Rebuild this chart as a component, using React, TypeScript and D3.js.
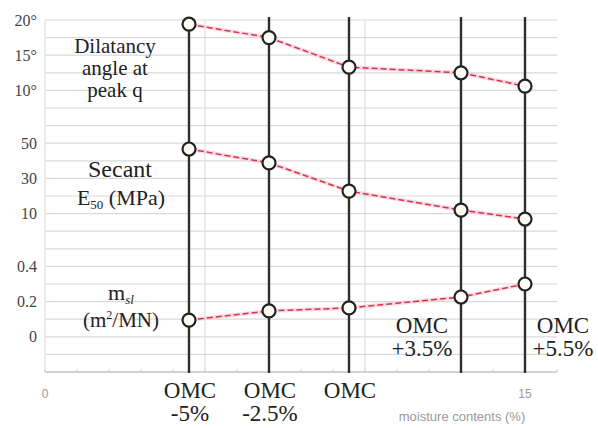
import React from "react";
import * as d3 from "d3";

// Moisture content of each specimen (%), and its label relative to OMC
const moisture = [4.5, 7, 9.5, 13, 15];
const omcLabels = [["OMC", "-5%"], ["OMC", "-2.5%"], ["OMC"], ["OMC", "+3.5%"], ["OMC", "+5.5%"]];

// Measured parameters at each moisture content
const dilatancy = [19.4, 17.5, 13.3, 12.5, 10.6]; // degrees
const secantE50 = [46.7, 38.8, 22.8, 12.0, 6.9]; // MPa
const mSl = [0.095, 0.147, 0.164, 0.226, 0.3]; // m2/MN

// Tick values shown for each stacked panel
const dilatancyTicks = [10, 15, 20];
const e50Ticks = [10, 30, 50];
const mTicks = [0, 0.2, 0.4];
const xTicks = [0, 15];

const W = 598;
const H = 428;

const serif = "'Liberation Serif', 'Times New Roman', serif";
const sans = "'Liberation Sans', Arial, sans-serif";
const serifStyle = { fontFamily: serif };

export default function App() {
  const x = d3.scaleLinear().domain([0, 16]).range([45, 557]);
  const y = d3.scaleLinear().domain([0, 20]).range([372, 20]);

  // each parameter occupies its own band of the shared vertical axis
  const dilBand = d3.scaleLinear().domain([10, 20]).range([16, 20]);
  const e50Band = d3.scaleLinear().domain([10, 50]).range([9, 13]);
  const mBand = d3.scaleLinear().domain([0, 0.4]).range([2, 6]);

  const series = [
    { values: dilatancy, band: dilBand },
    { values: secantE50, band: e50Band },
    { values: mSl, band: mBand },
  ];

  const line = d3
    .line<[number, number]>()
    .x((d) => d[0])
    .y((d) => d[1]);

  const tickLabels = [
    ...dilatancyTicks.map((v) => ({ pos: dilBand(v), text: `${v}°` })),
    ...e50Ticks.map((v) => ({ pos: e50Band(v), text: `${v}` })),
    ...mTicks.map((v) => ({ pos: mBand(v), text: `${v}` })),
  ];

  const gridRows = d3.range(1, 21);
  const gridCols = [0, 5, 10, 15];
  const minorX = d3.range(0, 16.01, 1);

  return (
    <svg
      width={W}
      height={H}
      style={{ position: "absolute", left: 0, top: 0, background: "#fff" }}
    >
      {/* horizontal grid */}
      {gridRows.map((r) => (
        <line
          key={`h${r}`}
          x1={x(0)}
          x2={x(16)}
          y1={y(r)}
          y2={y(r)}
          stroke="#d9d9d9"
          strokeWidth={1.2}
        />
      ))}
      {/* vertical grid */}
      {gridCols.map((c) => (
        <line
          key={`v${c}`}
          x1={x(c)}
          x2={x(c)}
          y1={y(20)}
          y2={y(0)}
          stroke="#dedede"
          strokeWidth={1.2}
        />
      ))}
      {/* bottom axis */}
      <line x1={x(0)} x2={x(16)} y1={y(0)} y2={y(0)} stroke="#c4c4c4" strokeWidth={1.5} />
      {minorX.map((v) => (
        <line
          key={`t${v}`}
          x1={x(v)}
          x2={x(v)}
          y1={y(0)}
          y2={y(0) - 3}
          stroke="#cfcfcf"
          strokeWidth={1}
        />
      ))}

      {/* specimen lines */}
      {moisture.map((m, i) => (
        <line
          key={`s${i}`}
          x1={x(m)}
          x2={x(m)}
          y1={y(20) - 3}
          y2={y(0) + 1}
          stroke="#2e2e2e"
          strokeWidth={2.4}
        />
      ))}

      {/* trend lines */}
      {series.map((s, si) => {
        const pts = s.values.map((v, i) => [x(moisture[i]), y(s.band(v))] as [number, number]);
        return (
          <g key={`l${si}`}>
            <path d={line(pts) || ""} fill="none" stroke="#f8c4cf" strokeWidth={4} opacity={0.6} />
            <path
              d={line(pts) || ""}
              fill="none"
              stroke="#d8324c"
              strokeWidth={1.5}
              strokeDasharray="6,3"
            />
          </g>
        );
      })}

      {/* markers */}
      {series.map((s, si) =>
        s.values.map((v, i) => (
          <circle
            key={`c${si}-${i}`}
            cx={x(moisture[i])}
            cy={y(s.band(v))}
            r={6.5}
            fill="#fffdf6"
            stroke="#222"
            strokeWidth={2.2}
          />
        ))
      )}

      {/* left tick labels */}
      {tickLabels.map((t, i) => (
        <text
          key={`yl${i}`}
          x={37}
          y={y(t.pos)}
          dy="0.35em"
          textAnchor="end"
          style={serifStyle}
          fontSize={16}
          fill="#444"
        >
          {t.text}
        </text>
      ))}

      {/* panel titles */}
      <g fill="#222" textAnchor="middle">
        <text x={115} y={53} fontSize={21} style={serifStyle}>Dilatancy</text>
        <text x={115} y={75} fontSize={21} style={serifStyle}>angle at</text>
        <text x={115} y={97} fontSize={21} style={serifStyle}>peak q</text>

        <text x={120} y={177} fontSize={24} style={serifStyle}>Secant</text>
        <text x={121} y={205} fontSize={22} style={serifStyle}>
          E<tspan fontSize={13} dy={4}>50</tspan>
          <tspan dy={-4}>{"  (MPa)"}</tspan>
        </text>

        <text x={121} y={300} fontSize={22} style={serifStyle}>
          m<tspan fontSize={13} dy={4} fontStyle="italic">sl</tspan>
        </text>
        <text x={121} y={327} fontSize={21} style={serifStyle}>
          (m<tspan fontSize={12} dy={-8}>2</tspan>
          <tspan dy={8}>/MN)</tspan>
        </text>
      </g>

      {/* OMC labels */}
      <g fill="#222" textAnchor="middle" fontSize={23}>
        {omcLabels.map((lab, i) => {
          const above = i >= 3;
          const cx = i === 3 ? x(moisture[i]) - 39 : i === 4 ? x(moisture[i]) + 38 : x(moisture[i]) + 1;
          const y0 = above ? 333 : 398;
          return (
            <text key={`o${i}`} x={cx} y={y0} style={serifStyle}>
              {lab.map((s, k) => (
                <tspan key={k} x={cx} dy={k === 0 ? 0 : 23}>
                  {s}
                </tspan>
              ))}
            </text>
          );
        })}
      </g>

      {/* x axis labels */}
      {xTicks.map((v) => (
        <text
          key={`xl${v}`}
          x={x(v)}
          y={398}
          textAnchor="middle"
          fontFamily={sans}
          fontSize={12}
          fill="#999"
        >
          {v}
        </text>
      ))}
      <text x={462} y={421} textAnchor="middle" fontFamily={sans} fontSize={13} fill="#999">
        moisture contents (%)
      </text>
    </svg>
  );
}
